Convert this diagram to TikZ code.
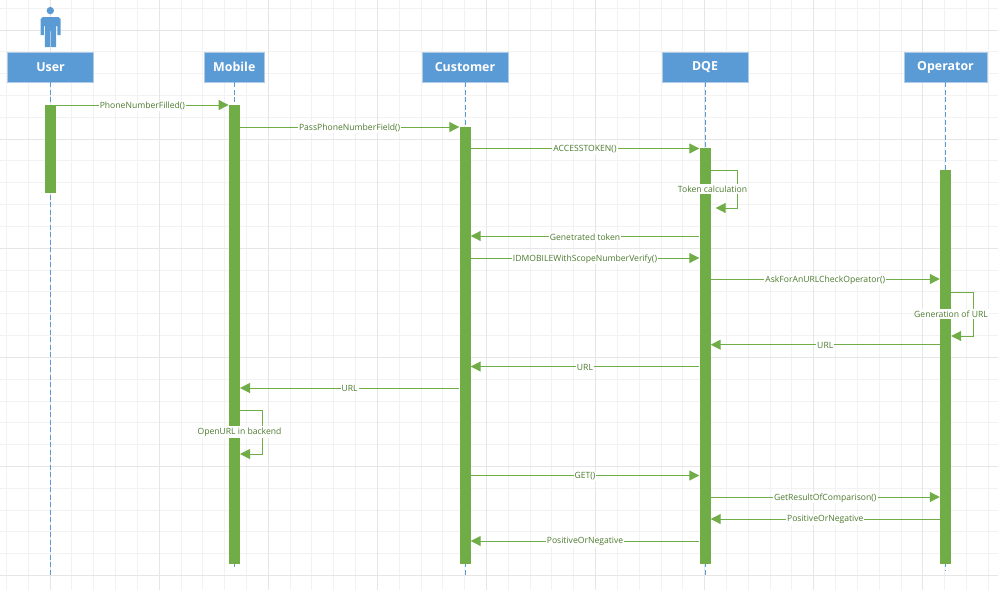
\documentclass[tikz,border=0pt]{standalone}
\usepackage{fontspec}
\setmainfont{Open Sans}
\usetikzlibrary{arrows.meta}
\definecolor{hdr}{HTML}{5B9BD5}
\definecolor{hdredge}{HTML}{AECBE8}
\definecolor{act}{HTML}{70AD47}
\definecolor{acttxt}{HTML}{4C7A2F}
\definecolor{gridmin}{HTML}{F2F2F2}
\definecolor{gridmaj}{HTML}{E6E6E6}
\tikzset{
  x=1pt,y=-1pt,
  header/.style={rectangle,draw=hdredge,line width=0.8pt,fill=hdr,text=white,inner sep=0pt,minimum height=30pt,font=\fontsize{12.4}{13}\selectfont\bfseries},
  bar/.style={rectangle,fill=act,draw=none,inner sep=0pt,minimum width=11pt,anchor=north},
  lifeline/.style={draw=hdr,line width=0.9pt,dash pattern=on 5pt off 2.5pt},
  msg/.style={draw=act,line width=1pt,-{Triangle[length=10pt,width=10pt,fill=act]}},
  msgtxt/.style={fill=white,text=acttxt,inner sep=1pt,font=\fontsize{8.6}{9}\selectfont,midway,yshift=-0.8pt},
  selftxt/.style={fill=white,text=acttxt,inner ysep=1.6pt,inner xsep=1pt,font=\fontsize{8.6}{9}\selectfont},
}
\begin{document}
\begin{tikzpicture}
\useasboundingbox (0,0) rectangle (998,590);
% grid
\foreach \i in {0,...,45}{
  \pgfmathsetmacro{\gx}{6.4+21.82*\i}
  \draw[gridmin,line width=0.9pt] (\gx,0) -- (\gx,590);
}
\foreach \i in {0,...,26}{
  \pgfmathsetmacro{\gy}{8.2+21.82*\i}
  \draw[gridmin,line width=0.9pt] (0,\gy) -- (998,\gy);
}
\foreach \i in {0,...,9}{
  \pgfmathsetmacro{\gx}{50+109.1*\i}
  \draw[gridmaj,line width=0.9pt] (\gx,0) -- (\gx,590);
}
\foreach \i in {0,...,5}{
  \pgfmathsetmacro{\gy}{30+109.1*\i}
  \draw[gridmaj,line width=0.9pt] (0,\gy) -- (998,\gy);
}
% actor
\fill[hdr] (50.3,10.6) circle (3.7);
\fill[hdr] (43,17) -- (58.5,17) -- (60.5,19) -- (60.5,35) -- (57.3,35) -- (57.3,26) -- (56.2,26) -- (56.2,47) -- (50.9,47) -- (50.9,31) -- (50,31) -- (50,47) -- (44.8,47) -- (44.8,26) -- (43.8,26) -- (43.8,35) -- (40.6,35) -- (40.6,19) -- cycle;
% headers
\node[header,minimum width=86pt] (huser) at (50.5,67) {\raisebox{-0.5pt}{User}};
\node[header,minimum width=60pt] (hmob) at (234.3,67) {\raisebox{-0.5pt}{Mobile}};
\node[header,minimum width=86pt] (hcus) at (465,67) {\raisebox{-0.5pt}{Customer}};
\node[header,minimum width=86pt] (hdqe) at (705,67) {\raisebox{-0.5pt}{DQE}};
\node[header,minimum width=83pt] (hope) at (945.5,67) {\raisebox{-0.5pt}{Operator}};
% end points of lifelines
\coordinate (euser) at (50.5,575);
\coordinate (emob) at (234.3,569);
\coordinate (ecus) at (465,576);
\coordinate (edqe) at (705,575);
\coordinate (eope) at (945.5,570);
\draw[lifeline] (huser) -- (euser);
\draw[lifeline] (hmob) -- (emob);
\draw[lifeline] (hcus) -- (ecus);
\draw[lifeline] (hdqe) -- (edqe);
\draw[lifeline] (hope) -- (eope);
% activations
\node[bar,minimum height=87.5pt] (auser) at (50.5,104.8) {};
\node[bar,minimum height=459pt] (amob) at (234.3,104.8) {};
\node[bar,minimum height=437.5pt] (acus) at (465,126.5) {};
\node[bar,minimum height=416pt] (adqe) at (705,148) {};
\node[bar,minimum height=394pt] (aope) at (945.5,170) {};
% messages
\draw[msg] (auser.east |- 0,105) -- node[msgtxt] (m1) {PhoneNumberFilled()} (amob.west |- 0,105);
\draw[msg] (amob.east |- 0,127) -- node[msgtxt] (m2) {PassPhoneNumberField()} (acus.west |- 0,127);
\draw[msg] (acus.east |- 0,148.5) -- node[msgtxt] (m3) {ACCESSTOKEN()} (adqe.west |- 0,148.5);
\draw[msg] (adqe.west |- 0,236) -- node[msgtxt] (m4) {Genetrated token} (acus.east |- 0,236);
\draw[msg] (acus.east |- 0,258) -- node[msgtxt] (m5) {IDMOBILEWithScopeNumberVerify()} (adqe.west |- 0,258);
\draw[msg] (adqe.east |- 0,279) -- node[msgtxt] (m6) {AskForAnURLCheckOperator()} (aope.west |- 0,279);
\draw[msg] (aope.west |- 0,344.7) -- node[msgtxt] (m7) {URL} (adqe.east |- 0,344.7);
\draw[msg] (adqe.west |- 0,366.5) -- node[msgtxt] (m8) {URL} (acus.east |- 0,366.5);
\draw[msg] (acus.west |- 0,388) -- node[msgtxt] (m9) {URL} (amob.east |- 0,388);
\draw[msg] (acus.east |- 0,475.5) -- node[msgtxt] (m10) {GET()} (adqe.west |- 0,475.5);
\draw[msg] (adqe.east |- 0,497) -- node[msgtxt] (m11) {GetResultOfComparison()} (aope.west |- 0,497);
\draw[msg] (aope.west |- 0,519) -- node[msgtxt] (m12) {PositiveOrNegative} (adqe.east |- 0,519);
\draw[msg] (adqe.west |- 0,541) -- node[msgtxt] (m13) {PositiveOrNegative} (acus.east |- 0,541);
% self messages
\draw[msg] (adqe.east |- 0,170) -- (737,170) -- (737,208) -- ([xshift=5pt]adqe.east |- 0,208);
\node[selftxt] (s1) at (712.5,189) {Token calculation};
\draw[msg] (aope.east |- 0,292.5) -- (973,292.5) -- (973,336) -- (aope.east |- 0,336);
\node[selftxt] (s2) at (951,314) {Generation of URL};
\draw[msg] (amob.east |- 0,410) -- (262,410) -- (262,454) -- (amob.east |- 0,454);
\node[selftxt] (s3) at (239.5,432) {OpenURL in backend};
\end{tikzpicture}
\end{document}
